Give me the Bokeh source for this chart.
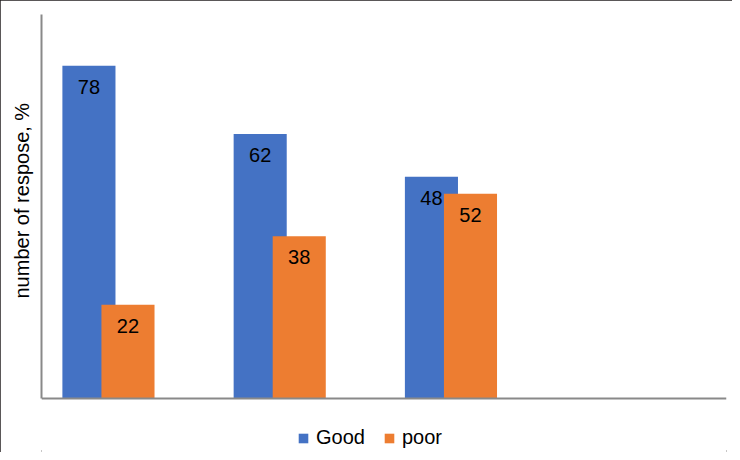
from bokeh.plotting import figure
from bokeh.models import ColumnDataSource, Range1d, FixedTicker, Legend, LegendItem, Title
from bokeh.core.properties import value
from bokeh.embed import file_html
from bokeh.resources import INLINE

# ---- data ----
groups = [0, 1, 2]                 # category positions (no category labels shown)
good = [78, 62, 52]                # bar heights, blue series
poor = [22, 38, 48]                # bar heights, orange series
good_labels = ["78", "62", "48"]   # data labels as printed
poor_labels = ["22", "38", "52"]
series_names = ["Good", "poor"]
y_title = "number of respose, %"
y_max = 90

# ---- style / layout ----
BLUE = "#4472C4"
ORANGE = "#ED7D31"
AXIS = "#898989"
FONT = "Liberation Sans"
BAR_W = 0.31
OFF_GOOD = -0.223
OFF_POOR = 0.005
W, H = 732, 452
TOP, ZERO_Y, LEFT, RIGHT = 14, 398, 41, 726   # pixel layout of the plot area
ppu = (ZERO_Y - TOP) / y_max
y_start = -(H - ZERO_Y) / ppu                 # frame runs to the bottom so the legend fits inside

p = figure(width=W, height=H, output_backend="svg", toolbar_location=None,
           x_range=Range1d(-0.5, 3.5), y_range=Range1d(y_start, y_max),
           min_border_left=LEFT, min_border_right=W - RIGHT, min_border_top=TOP, min_border_bottom=0)
p.outline_line_color = None
p.grid.visible = False
p.background_fill_color = "white"
p.border_fill_color = "white"
p.styles = {"outline": "2px solid #231f20", "outline-offset": "-2px"}

src_g = ColumnDataSource(dict(x=[g + OFF_GOOD for g in groups], top=good, lab=good_labels))
src_p = ColumnDataSource(dict(x=[g + OFF_POOR for g in groups], top=poor, lab=poor_labels))

rg = p.vbar(x="x", top="top", bottom=0, width=BAR_W, source=src_g, fill_color=BLUE, line_color=None)
rp = p.vbar(x="x", top="top", bottom=0, width=BAR_W, source=src_p, fill_color=ORANGE, line_color=None)

for src in (src_g, src_p):
    p.text(x="x", y="top", text="lab", source=src, text_align="center", text_baseline="middle",
           y_offset=21, text_font=value(FONT), text_font_size="20px", text_color="black")

for ax in (p.xaxis[0], p.yaxis[0]):
    ax.ticker = FixedTicker(ticks=[])
    ax.major_label_text_font_size = "0px"
    ax.major_tick_line_color = None
    ax.minor_tick_line_color = None
    ax.major_tick_out = 0
    ax.major_tick_in = 0
    ax.major_label_standoff = 0
    ax.axis_line_color = AXIS
    ax.axis_line_width = 2

p.xaxis.fixed_location = 0
p.yaxis.bounds = (0, y_max)

title = Title(text=y_title, align="left", vertical_align="middle", offset=154, standoff=16,
              text_font=FONT, text_font_size="20px", text_font_style="normal", text_color="black")
p.add_layout(title, "left")

legend = Legend(items=[LegendItem(label=series_names[0], renderers=[rg]),
                       LegendItem(label=series_names[1], renderers=[rp])],
                orientation="horizontal", location=(256, 3),
                glyph_width=12, glyph_height=12, label_standoff=7, spacing=18,
                padding=0, margin=0, border_line_color=None, background_fill_alpha=0,
                label_text_font=FONT, label_text_font_size="20px", label_text_color="black")
p.add_layout(legend, "center")

open("out.html", "w").write(file_html(p, INLINE))
